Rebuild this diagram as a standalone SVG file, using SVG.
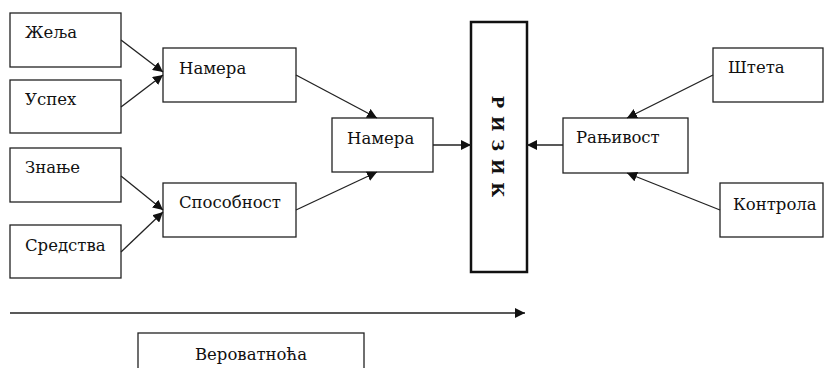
<svg xmlns="http://www.w3.org/2000/svg" width="824" height="368" viewBox="0 0 824 368">
<style>
.box{fill:#fff;stroke:#222;stroke-width:1.3}
.thick{fill:#fff;stroke:#111;stroke-width:2.5}
.c line{stroke:#222;stroke-width:1.3;marker-end:url(#ah)}
</style>
<defs>
<marker id="ah" viewBox="0 0 10 10" refX="10" refY="5" markerWidth="10" markerHeight="10" markerUnits="userSpaceOnUse" orient="auto">
<path d="M0,0 L10,5 L0,10 z" fill="#111"/>
</marker>
</defs>
<rect width="824" height="368" fill="#fff"/>
<g font-family="DejaVu Serif, Liberation Serif, serif" font-size="16.5" fill="#111">
<g id="zelja"><rect class="box" x="10" y="13" width="111" height="54"/><text x="25" y="38">Жеља</text></g>
<g id="uspeh"><rect class="box" x="10" y="80" width="111" height="53"/><text x="25" y="105">Успех</text></g>
<g id="znanje"><rect class="box" x="10" y="148" width="111" height="54"/><text x="25" y="173">Знање</text></g>
<g id="sredstva"><rect class="box" x="10" y="225" width="111" height="53"/><text x="25" y="251">Средства</text></g>
<g id="namera1"><rect class="box" x="163" y="48" width="133" height="54"/><text x="179" y="74">Намера</text></g>
<g id="sposobnost"><rect class="box" x="163" y="183" width="133" height="54"/><text x="179" y="208">Способност</text></g>
<g id="namera2"><rect class="box" x="332" y="118" width="101" height="54"/><text x="347" y="144">Намера</text></g>
<g id="rizik"><rect class="thick" x="471" y="22" width="56" height="250"/><text transform="translate(492,147) rotate(90)" text-anchor="middle" font-weight="bold" letter-spacing="1">Р И З И К</text></g>
<g id="ranjivost"><rect class="box" x="563" y="118" width="125" height="55"/><text x="576" y="143">Рањивост</text></g>
<g id="steta"><rect class="box" x="713" y="48" width="110" height="54"/><text x="728" y="73">Штета</text></g>
<g id="kontrola"><rect class="box" x="720" y="183" width="103" height="54"/><text x="733" y="210">Контрола</text></g>
<g id="verovatnoca"><rect class="box" x="138" y="333" width="226" height="40"/><text x="251" y="360" text-anchor="middle">Вероватноћа</text></g>
</g>
<g class="c" id="connectors">
<line x1="121" y1="40" x2="163" y2="72"/>
<line x1="121" y1="107" x2="163" y2="75"/>
<line x1="121" y1="176" x2="163" y2="210"/>
<line x1="121" y1="252" x2="163" y2="212"/>
<line x1="296" y1="75" x2="377" y2="118"/>
<line x1="296" y1="210" x2="377" y2="172"/>
<line x1="433" y1="145" x2="471" y2="145"/>
<line x1="563" y1="145" x2="527" y2="145"/>
<line x1="713" y1="75" x2="627" y2="118"/>
<line x1="720" y1="210" x2="627" y2="173"/>
<line x1="10" y1="313" x2="525" y2="313"/>
</g>
</svg>
